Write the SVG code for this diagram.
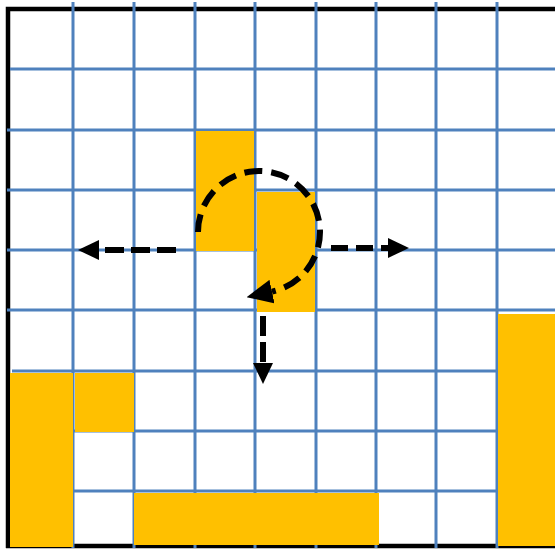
<svg xmlns="http://www.w3.org/2000/svg" width="555" height="550" viewBox="0 0 555 550">
<style>
.grid line{stroke:#4F81BD;stroke-width:3}
.cell{fill:#FFC000}
.border{stroke:#000;stroke-width:4.5;fill:none}
.dash{stroke:#000;stroke-width:6;fill:none}
</style>
<defs>
<marker id="ah" viewBox="0 0 21 20" refX="0" refY="10" markerWidth="21" markerHeight="20" markerUnits="userSpaceOnUse" orient="auto"><path d="M0,0 L21,10 L0,20 z" fill="#000"/></marker>
<marker id="ahBig" viewBox="0 0 26 24" refX="0" refY="12" markerWidth="26" markerHeight="24" markerUnits="userSpaceOnUse" orient="auto"><path d="M0,0 L26,12 L0,24 z" fill="#000"/></marker>
</defs>
<rect width="555" height="550" fill="#fff"/>
<g id="border">
<polyline class="border" points="555,9 8,9 8,548"/>
<line class="border" x1="6" y1="546" x2="555" y2="546"/>
</g>
<g id="grid" class="grid">
<line x1="73" y1="2" x2="73" y2="548"/>
<line x1="134" y1="2" x2="134" y2="548"/>
<line x1="195" y1="2" x2="195" y2="548"/>
<line x1="255" y1="2" x2="255" y2="548"/>
<line x1="316" y1="2" x2="316" y2="548"/>
<line x1="376" y1="2" x2="376" y2="548"/>
<line x1="436" y1="2" x2="436" y2="548"/>
<line x1="497" y1="2" x2="497" y2="548"/>
<line x1="10" y1="69" x2="555" y2="69"/>
<line x1="7" y1="130" x2="555" y2="130"/>
<line x1="7" y1="190" x2="555" y2="190"/>
<line x1="7" y1="250" x2="555" y2="250"/>
<line x1="7" y1="310" x2="555" y2="310"/>
<line x1="12" y1="371" x2="555" y2="371"/>
<line x1="12" y1="431" x2="555" y2="431"/>
<line x1="12" y1="491" x2="555" y2="491"/>
</g>
<g id="cell-a"><rect class="cell" x="196" y="131" width="58" height="120"/></g>
<g id="cell-b"><rect class="cell" x="257" y="192" width="58" height="120"/></g>
<g id="cell-c"><rect class="cell" x="10" y="373" width="63" height="174"/></g>
<g id="cell-d"><rect class="cell" x="75" y="373" width="59" height="59"/></g>
<g id="cell-e"><rect class="cell" x="134" y="493" width="245" height="52"/></g>
<g id="cell-f"><rect class="cell" x="498" y="314" width="57" height="232"/></g>
<g id="connectors">
<path class="dash" stroke-width="8" stroke-dasharray="18 9" d="M198,232 A61,61 0 1 1 272,291.6" marker-end="url(#ahBig)"/>
<line class="dash" x1="176" y1="250" x2="99" y2="250" stroke-dasharray="19 7" marker-end="url(#ah)"/>
<line class="dash" x1="331" y1="248" x2="388" y2="248" stroke-dasharray="17 8" marker-end="url(#ah)"/>
<line class="dash" x1="263" y1="316" x2="263" y2="363" stroke-dasharray="20 6" marker-end="url(#ah)"/>
</g>
</svg>
